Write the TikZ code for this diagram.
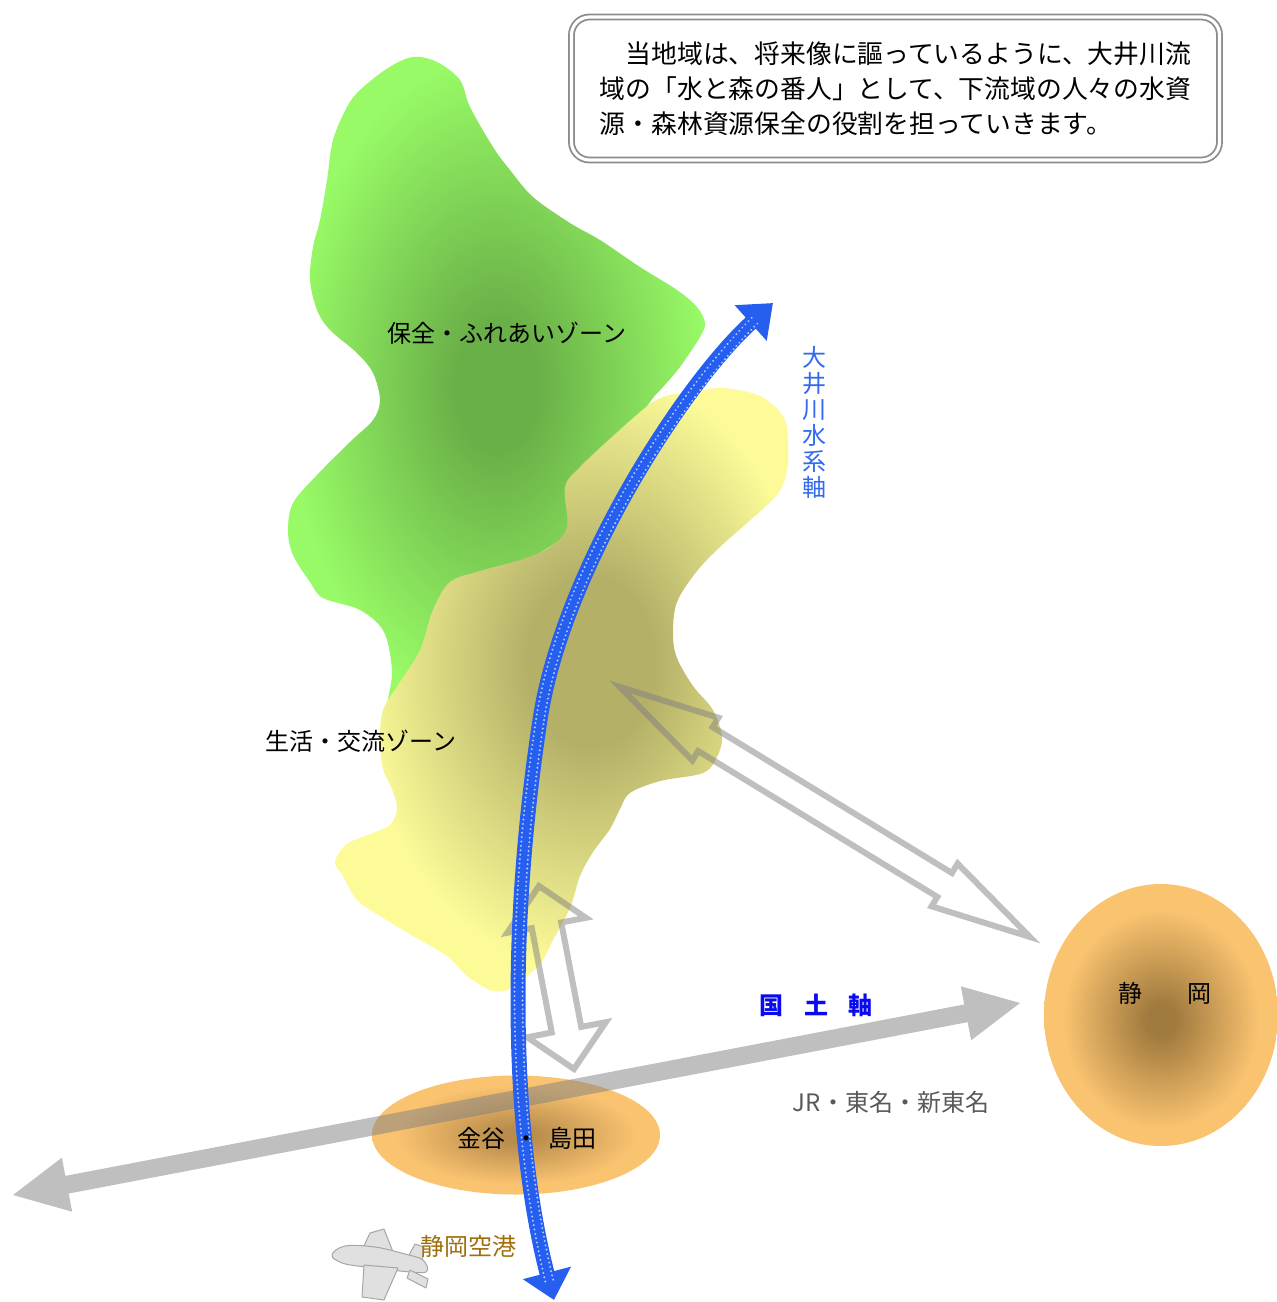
\documentclass[tikz,border=0pt]{standalone}
\usepackage{fontspec}
\setmainfont{Noto Sans CJK JP}
\usetikzlibrary{shapes.geometric,
                arrows.meta,
                calc,
                decorations.markings}

\definecolor{zonegreen}{RGB}{152,250,102}
\definecolor{zonegreendark}{RGB}{106,176,72}
\definecolor{zoneyellow}{RGB}{252,251,152}
\definecolor{zoneyellowdark}{RGB}{180,176,104}
\definecolor{cityorange}{RGB}{250,195,112}
\definecolor{kanayadark}{RGB}{184,140,76}
\definecolor{shizuokadark}{RGB}{160,122,62}
\definecolor{riverblue}{RGB}{38,94,240}
\definecolor{riverdot}{RGB}{175,205,255}
\definecolor{riverlabel}{RGB}{50,105,240}
\definecolor{axislabel}{RGB}{10,10,240}
\definecolor{airportlabel}{RGB}{160,110,10}
\definecolor{notegray}{RGB}{140,140,140}

\pgfdeclareradialshading{greenzone}{\pgfpoint{0bp}{0bp}}%
   {color(0bp)=(zonegreendark); color(5bp)=(zonegreendark); color(25bp)=(zonegreen); color(100bp)=(zonegreen)}
\pgfdeclareradialshading{yellowzone}{\pgfpoint{3.5bp}{2.5bp}}%
   {color(0bp)=(zoneyellowdark); color(7bp)=(zoneyellowdark); color(25bp)=(zoneyellow); color(100bp)=(zoneyellow)}
\pgfdeclareradialshading{kanayacity}{\pgfpoint{0bp}{0bp}}%
   {color(0bp)=(kanayadark); color(3bp)=(kanayadark); color(21bp)=(cityorange); color(100bp)=(cityorange)}
\pgfdeclareradialshading{shizuokacity}{\pgfpoint{0bp}{-1bp}}%
   {color(0bp)=(shizuokadark); color(3bp)=(shizuokadark); color(21bp)=(cityorange); color(100bp)=(cityorange)}

\tikzset{zonelabel/.style =
   {font=\fontsize{12}{14}\selectfont,
    inner sep=0pt}}
\tikzset{city/.style =
   {ellipse,
    shade,
    inner sep=0pt}}
\tikzset{hollowarrow/.style =
   {draw=black!50,
    draw opacity=0.5,
    line width=3pt,
    line join=miter}}
\tikzset{axisarrow/.style =
   {fill=black!50,
    fill opacity=0.5}}
\tikzset{river/.style =
   {draw=riverblue,
    line width=7.5pt,
    {Triangle[length=14pt,width=24pt]}-{Triangle[length=15pt,width=23pt]},
    postaction={decorate,
                decoration={markings,
                            mark=between positions 10pt and -12pt step 2.2pt with
                            {\fill[riverdot] (0pt,2pt) circle (0.55pt)
                                             (0pt,-2pt) circle (0.55pt);}}}}}
\tikzset{notebox/.style =
   {rectangle,
    rounded corners=9pt,
    draw=notegray,
    double=white,
    double distance=1.6pt,
    line width=0.9pt,
    minimum width=324pt,
    minimum height=71.5pt,
    inner sep=0pt,
    align=left,
    font=\fontsize{12.9}{17.5}\selectfont}}
\tikzset{planepart/.style =
   {fill=black!12,
    draw=black!35,
    line width=0.5pt,
    line join=round}}

% block arrow with a head at both ends, from #2 to #3
% #4 half shaft, #5 half head, #6 head length
\newcommand{\blockarrow}[6]{%
  \path[#1] (#2)
    -- ($(#2)!#6!(#3)!#5!90:(#3)$)
    -- ($(#2)!#6!(#3)!#4!90:(#3)$)
    -- ($(#3)!#6!(#2)!#4!90:(#3)$)
    -- ($(#3)!#6!(#2)!#5!90:(#3)$)
    -- (#3)
    -- ($(#3)!#6!(#2)!#5!-90:(#3)$)
    -- ($(#3)!#6!(#2)!#4!-90:(#3)$)
    -- ($(#2)!#6!(#3)!#4!-90:(#3)$)
    -- ($(#2)!#6!(#3)!#5!-90:(#3)$)
    -- cycle;}

\begin{document}
\begin{tikzpicture}[x=0.5pt,y=-0.5pt]

    \useasboundingbox (0,0) rectangle (1277,1302);

    % zones
    \shade[shading=greenzone] plot[smooth cycle, tension=0.55] coordinates
      {(413,57) (437,62) (460,80) (470,107) (493,147) (510,170) (533,197)
       (570,223) (600,240) (640,267) (677,290) (697,307) (705,323) (700,337)
       (680,367) (663,387) (650,402) (622,445) (572,530) (470,595) (425,660)
       (388,712) (392,672) (384,632) (360,610) (323,598) (310,582) (293,555)
       (288,531) (293,503) (317,475) (350,442) (373,420) (380,400) (373,373)
       (357,353) (330,330) (317,310) (310,280) (313,247) (320,220) (327,180)
       (333,140) (347,107) (360,90) (388,68)};
    \shade[shading=yellowzone] plot[smooth cycle, tension=0.55] coordinates
      {(693,392) (723,388) (760,396) (783,416) (788,440) (787,471) (777,495)
       (747,523) (720,547) (697,571) (677,602) (673,634) (677,658) (693,686)
       (713,710) (722,737) (717,757) (703,773) (660,781) (630,793) (620,809)
       (610,829) (593,852) (580,876) (570,908) (553,940) (540,964) (513,987)
       (493,991) (467,976) (447,956) (413,936) (380,916) (357,900) (343,876)
       (335,862) (347,844) (373,833) (390,825) (397,809) (392,789) (383,769)
       (380,741) (383,710) (400,682) (420,650) (433,610) (450,582) (480,571)
       (523,559) (550,547) (567,527) (565,487) (580,467) (613,436) (650,404)
       (670,395)};

    % cities
    \node [city,
           shading=kanayacity,
           minimum width=144pt,
           minimum height=59.5pt] (kanaya) at (516,1135) {};
    \node [city,
           shading=shizuokacity,
           minimum width=117pt,
           minimum height=131pt] (shizuoka) at (1161,1015) {};

    % axis and links
    \coordinate (axisW) at (13,1195);
    \coordinate (axisE) at (1020,1003);
    \coordinate (zoneSE) at (620,687);
    \coordinate (shizuokaNW) at (1030,937);
    \coordinate (zoneS) at (539,886);
    \coordinate (kanayaN) at (574,1069);

    \blockarrow{axisarrow}{axisW}{axisE}{4.5pt}{13.75pt}{27.5pt}
    \blockarrow{hollowarrow}{zoneSE}{shizuokaNW}{7pt}{12.5pt}{50pt}
    \blockarrow{hollowarrow}{zoneS}{kanayaN}{7.5pt}{20pt}{20pt}

    % airplane
    \path[planepart] (362,1250) -- (370,1233) -- (384,1229) -- (393,1252) -- cycle;
    \path[planepart] (408,1257) -- (415,1244) -- (424,1247) -- (422,1262) -- cycle;
    \path[planepart] plot[smooth cycle, tension=0.6] coordinates
      {(332,1255) (345,1246) (375,1247) (405,1254) (423,1260) (426,1272)
       (400,1271) (365,1267) (342,1263)};
    \path[planepart] (364,1265) -- (362,1297) -- (384,1300) -- (398,1268) -- cycle;
    \path[planepart] (410,1270) -- (428,1279) -- (426,1288) -- (407,1278) -- cycle;

    % river
    \coordinate (riverS) at (554,1300);
    \coordinate (riverN) at (773,303);
    \draw[river] (riverS) .. controls (515,1150) and (505,950) .. (540,720)
                          .. controls (562,572) and (684,383) .. (riverN);

    % labels
    \node [zonelabel] (conserve) at (507,333) {保全・ふれあいゾーン};
    \node [zonelabel] (living) at (361,741) {生活・交流ゾーン};
    \node [zonelabel,
           text=riverlabel,
           align=center,
           font=\fontsize{12}{13}\selectfont] (riveraxis) at (814,422)
          {大\\井\\川\\水\\系\\軸};
    \node [zonelabel,
           text=axislabel,
           font=\fontsize{12}{14}\selectfont\bfseries] (nationalaxis) at (816,1005)
          {国\hspace{0.85em}土\hspace{0.85em}軸};
    \node [zonelabel,
           text=black!65] (routes) at (891,1102) {JR・東名・新東名};
    \node [zonelabel] (kanayalabel) at (527,1138)
          {金谷\hspace{0.4em}・\hspace{0.4em}島田};
    \node [zonelabel] (shizuokalabel) at (1165,993) {静\hspace{1.9em}岡};
    \node [zonelabel,
           text=airportlabel] (airport) at (468,1246) {静岡空港};

    \node [notebox] (note) at (895.5,88.5)
    {\hspace*{1em}当地域は、将来像に謳っているように、大井川流\\%
     域の「水と森の番人」として、下流域の人々の水資\\%
     源・森林資源保全の役割を担っていきます。};

\end{tikzpicture}
\end{document}
